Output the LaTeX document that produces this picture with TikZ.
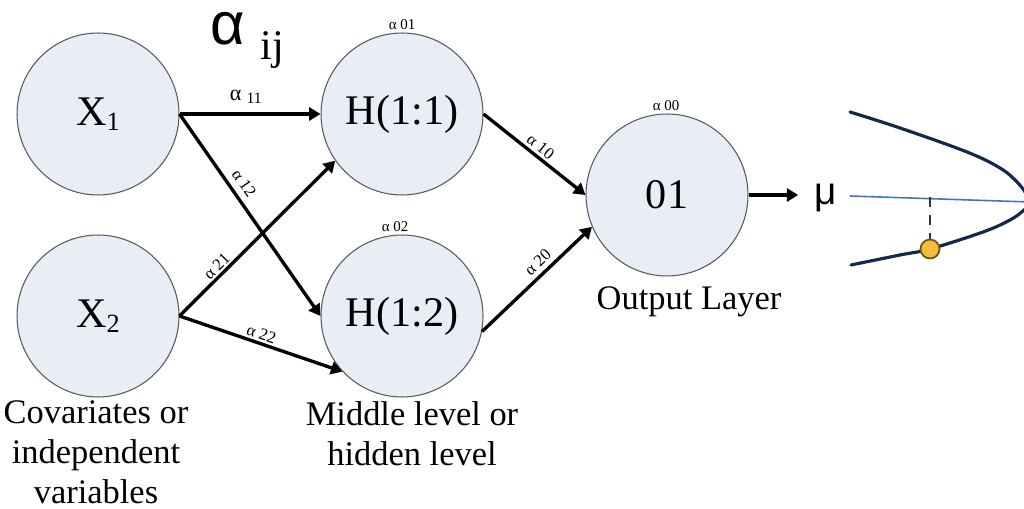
\documentclass[tikz,border=0pt]{standalone}
\usepackage{fontspec}
\setmainfont{Liberation Serif}
\newfontfamily\sansgr{Liberation Sans}
\usetikzlibrary{arrows.meta}
\definecolor{nodefill}{HTML}{E8EDF6}
\definecolor{nodeline}{HTML}{5A5A5A}
\definecolor{curvecol}{HTML}{13284B}
\definecolor{bluel}{HTML}{4472C4}
\definecolor{dotfill}{HTML}{F5BD3B}
\definecolor{dotline}{HTML}{6E5612}
\begin{document}
\begin{tikzpicture}[x=0.02cm,y=-0.02cm,
 neuron/.style={circle, fill=nodefill, draw=nodeline, line width=0.6pt, minimum size=3.24cm, inner sep=0pt, font=\fontsize{24}{28}\selectfont},
 conn/.style={line width=1.9pt, -{Triangle[length=6.5pt,width=7.5pt]}},
 wlab/.style={font=\fontsize{9.5}{11}\selectfont, inner sep=0.5pt, sloped},
 toplab/.style={font=\fontsize{8.5}{10}\selectfont, inner sep=0pt},
 caption/.style={font=\fontsize{19.6}{23}\selectfont, align=center, inner sep=0pt}]
\useasboundingbox (0,0) rectangle (1024,509);

% neurons
\node[neuron] (X1) at (98,114) {X\raisebox{-3pt}{\fontsize{15}{15}\selectfont 1}};
\node[neuron] (X2) at (98,316) {X\raisebox{-3pt}{\fontsize{15}{15}\selectfont 2}};
\node[neuron] (H11) at (402,114) {H(1:1)};
\node[neuron] (H12) at (402,316) {H(1:2)};
\node[neuron] (O) at (667,195) {01};

% bias labels
\node[toplab, anchor=base] (a01) at (402,30) {α 01};
\node[toplab, anchor=base] (a02) at (395,232) {α 02};
\node[toplab, anchor=base] (a00) at (666,111) {α 00};

% title alpha ij
\node[anchor=base west, inner sep=0pt] (aij) at (210,45)
  {{\sansgr\fontsize{34}{34}\selectfont α}\hspace{9pt}\raisebox{-8pt}{\fontsize{24}{24}\selectfont ij}};

% connections
\draw[conn] (X1.east) -- (H11.west)
  node[pos=0.47, above=4pt, inner sep=1pt] (l11)
  {{\fontsize{12.5}{12}\selectfont α}\hspace{3pt}\raisebox{-1.5pt}{\fontsize{9}{10}\selectfont 11}};
\draw[conn] (X1.east) -- (H12.west)
  node[wlab, pos=0.38, above=3pt] (l12) {α 12};
\draw[conn] (X2.east) -- (H11.215)
  node[wlab, pos=0.28, above=0.5pt] (l21) {α 21};
\draw[conn] (X2.east) -- (H12.223)
  node[wlab, pos=0.485, above=0.5pt] (l22) {α 22};
\draw[conn] (H11.east) -- (O.west)
  node[wlab, pos=0.5, above=1pt] (l10) {α 10};
\draw[conn] (H12.-11) -- (O.203)
  node[wlab, pos=0.58, above=2pt] (l20) {α 20};

% output
\node[anchor=base, inner sep=0pt, font=\sansgr\fontsize{22}{22}\selectfont] (mu) at (825.5,205) {μ};
\draw[conn, shorten >=9pt] (O.east) -- (O.east -| mu.west);

% captions
\node[caption, anchor=north] (cov) at (96,400) {Covariates or\\independent\\variables};
\node[caption, anchor=north] (mid) at (412,401) {Middle level or\\hidden level};
\node[caption, anchor=base] (outl) at (689,310) {Output Layer};

% distribution curve
\begin{scope}
\clip (0,0) rectangle (1024,509);
\draw[bluel, line width=0.9pt] (850,196) -- (1030,202);
\draw[curvecol, line width=1.8pt, line cap=round] plot[smooth, tension=0.6] coordinates
  {(850,112) (900,128) (967,152) (1000,168) (1017,182) (1027,195) (1029,203) (1024,210) (1010,220) (983,232) (930,249) (900,255) (851,265)};
\end{scope}
\coordinate (dtop) at (930,197.5);
\node[circle, fill=dotfill, draw=dotline, line width=1pt, minimum size=0.38cm, inner sep=0pt] (dot) at (930,249) {};
\draw[black!80, line width=1.4pt, dash pattern=on 5.5pt off 4.5pt] (dtop) -- (dot.north);
\end{tikzpicture}
\end{document}
